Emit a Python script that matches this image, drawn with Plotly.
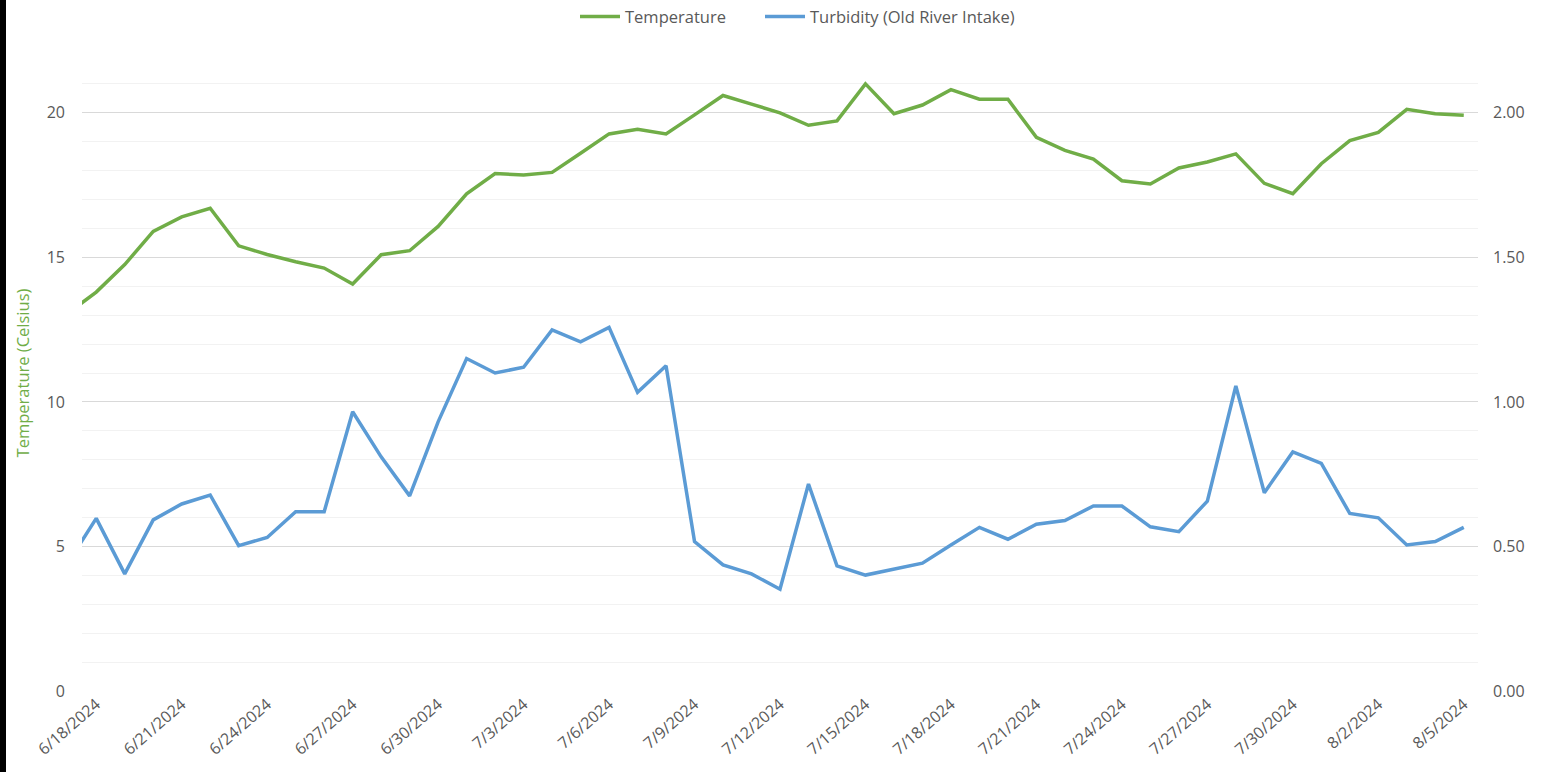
import plotly.graph_objects as go

dates = [
    "2024-06-17", "2024-06-18", "2024-06-19", "2024-06-20", "2024-06-21", "2024-06-22",
    "2024-06-23", "2024-06-24", "2024-06-25", "2024-06-26", "2024-06-27", "2024-06-28",
    "2024-06-29", "2024-06-30", "2024-07-01", "2024-07-02", "2024-07-03", "2024-07-04",
    "2024-07-05", "2024-07-06", "2024-07-07", "2024-07-08", "2024-07-09", "2024-07-10",
    "2024-07-11", "2024-07-12", "2024-07-13", "2024-07-14", "2024-07-15", "2024-07-16",
    "2024-07-17", "2024-07-18", "2024-07-19", "2024-07-20", "2024-07-21", "2024-07-22",
    "2024-07-23", "2024-07-24", "2024-07-25", "2024-07-26", "2024-07-27", "2024-07-28",
    "2024-07-29", "2024-07-30", "2024-07-31", "2024-08-01", "2024-08-02", "2024-08-03",
    "2024-08-04", "2024-08-05",
]

temperature = [
    13.06, 13.8, 14.75, 15.9, 16.4, 16.7, 15.4, 15.1, 14.85, 14.63, 14.08, 15.09,
    15.23, 16.07, 17.2, 17.9, 17.85, 17.94, 18.6, 19.27, 19.43, 19.27, 19.93, 20.6,
    20.3, 20.0, 19.57, 19.72, 21.0, 19.97, 20.27, 20.8, 20.47, 20.47, 19.15, 18.7,
    18.4, 17.65, 17.54, 18.09, 18.3, 18.58, 17.56, 17.2, 18.24, 19.04, 19.32, 20.12,
    19.97, 19.92,
]

turbidity = [
    0.443, 0.597, 0.405, 0.592, 0.647, 0.678, 0.503, 0.531, 0.62, 0.62, 0.966, 0.81,
    0.675, 0.931, 1.15, 1.10, 1.12, 1.249, 1.208, 1.258, 1.033, 1.125, 0.517, 0.436,
    0.405, 0.352, 0.716, 0.433, 0.401, 0.421, 0.442, 0.505, 0.566, 0.525, 0.577, 0.59,
    0.64, 0.64, 0.568, 0.551, 0.657, 1.055, 0.686, 0.827, 0.787, 0.614, 0.599, 0.505,
    0.517, 0.566,
]

tick_dates = [
    "2024-06-18", "2024-06-21", "2024-06-24", "2024-06-27", "2024-06-30", "2024-07-03",
    "2024-07-06", "2024-07-09", "2024-07-12", "2024-07-15", "2024-07-18", "2024-07-21",
    "2024-07-24", "2024-07-27", "2024-07-30", "2024-08-02", "2024-08-05",
]
tick_labels = [
    "6/18/2024", "6/21/2024", "6/24/2024", "6/27/2024", "6/30/2024", "7/3/2024",
    "7/6/2024", "7/9/2024", "7/12/2024", "7/15/2024", "7/18/2024", "7/21/2024",
    "7/24/2024", "7/27/2024", "7/30/2024", "8/2/2024", "8/5/2024",
]

GREEN = "#70AD47"
BLUE = "#5B9BD5"
GREY = "#595959"
FONT = "Open Sans"
PW = 1396.0
LEFT = 82  # plot area left edge on screen
STRIP = 6  # dark strip on the left edge of the picture

fig = go.Figure()
fig.add_trace(go.Scatter(x=dates, y=temperature, name="Temperature", mode="lines",
                         line=dict(color=GREEN, width=3.5), yaxis="y", legend="legend"))
fig.add_trace(go.Scatter(x=dates, y=turbidity, name="Turbidity (Old River Intake)", mode="lines",
                         line=dict(color=BLUE, width=3.5), yaxis="y2", legend="legend2"))

legend_common = dict(orientation="h", xanchor="left", y=1.06, yanchor="middle",
                     font=dict(family=FONT, size=16.5, color=GREY), itemwidth=40,
                     bgcolor="rgba(0,0,0,0)")

fig.update_layout(
    width=1548 - STRIP, height=772,
    margin=dict(l=LEFT - STRIP, r=70, t=55, b=81, autoexpand=False),
    paper_bgcolor="white", plot_bgcolor="white",
    font=dict(family=FONT, size=16, color=GREY),
    showlegend=True,
    legend=dict(x=(575 - LEFT) / PW, **legend_common),
    legend2=dict(x=(760 - LEFT) / PW, **legend_common),
    xaxis=dict(type="date", range=["2024-06-17 12:00", "2024-08-05 12:00"],
               tickmode="array", tickvals=tick_dates, ticktext=tick_labels,
               tickangle=-41, showgrid=False, zeroline=False, showline=False,
               ticks="", automargin=False,
               tickfont=dict(family=FONT, size=16, color=GREY)),
    yaxis=dict(range=[0, 22], dtick=5, tick0=0, showgrid=True, gridcolor="#D9D9D9",
               gridwidth=1, zeroline=False, showline=False, ticks="",
               ticklabelstandoff=16, automargin=False,
               minor=dict(dtick=1, showgrid=True, gridcolor="#F2F2F2", gridwidth=1),
               tickfont=dict(family=FONT, size=16, color=GREY),
               title=dict(text="Temperature (Celsius)", font=dict(family=FONT, size=16.5, color=GREEN),
                          standoff=12)),
    yaxis2=dict(range=[0, 2.2], dtick=0.5, tick0=0, overlaying="y", side="right",
                showgrid=False, zeroline=False, showline=False, ticks="",
                tickformat=".2f", ticklabelstandoff=14, automargin=False,
                tickfont=dict(family=FONT, size=16, color=GREY)),
)

fig.write_html(
    "out.html",
    config={"displayModeBar": False},
    post_script=("document.body.style.margin='0 0 0 %dpx';"
                 "document.body.style.background='black';"
                 "document.documentElement.style.background='black';" % STRIP),
)
